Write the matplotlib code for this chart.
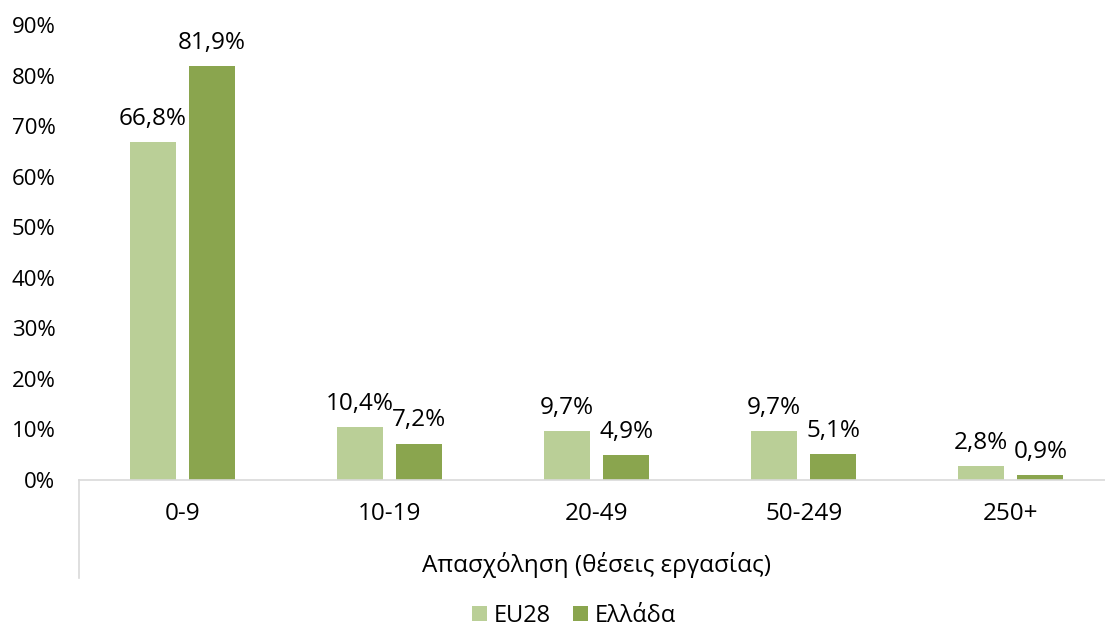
import numpy as np
import matplotlib
matplotlib.use("Agg")
import matplotlib.pyplot as plt
from matplotlib.ticker import FuncFormatter

plt.rcParams['font.family'] = ['Open Sans', 'DejaVu Sans']

# employment size classes and share of enterprises (%)
categories = ["0-9", "10-19", "20-49", "50-249", "250+"]
eu28 = [66.8, 10.4, 9.7, 9.7, 2.8]
greece = [81.9, 7.2, 4.9, 5.1, 0.9]
series_names = ["EU28", "Ελλάδα"]
axis_title = "Απασχόληση (θέσεις εργασίας)"

light_green = "#bacf97"
dark_green = "#8aa54e"
grey = "#d9d9d9"

fig = plt.figure(figsize=(11.05, 6.27), dpi=100)
ax = fig.add_axes([0.0715, 0.2344, 0.937, 0.7256])

x = np.arange(len(categories))
w = 0.222
off = 0.143
b1 = ax.bar(x - off, eu28, w, color=light_green, label=series_names[0])
b2 = ax.bar(x + off, greece, w, color=dark_green, label=series_names[1])

def pct(v):
    return f"{v:.1f}%".replace(".", ",")

for bars, vals in ((b1, eu28), (b2, greece)):
    for bar, v in zip(bars, vals):
        ax.annotate(pct(v), (bar.get_x() + bar.get_width() / 2, v),
                    xytext=(0, 12.5), textcoords="offset points",
                    ha="center", va="baseline", fontsize=17.5)

ax.set_xlim(-0.5, len(categories) - 0.5)
ax.set_ylim(0, 90)
ax.set_yticks(np.arange(0, 91, 10))
ax.yaxis.set_major_formatter(FuncFormatter(lambda v, p: f"{v:.0f}%"))
ax.set_xticks(x)
ax.set_xticklabels(categories)
ax.tick_params(axis="y", length=0, pad=17, labelsize=16)
ax.tick_params(axis="x", length=0, pad=16, labelsize=17.5)

for s in ("top", "right", "left"):
    ax.spines[s].set_visible(False)
ax.spines["bottom"].set_color(grey)
ax.spines["bottom"].set_linewidth(1.2)

# vertical divider below the category axis
ax.plot([0, 0], [0, -0.215], transform=ax.transAxes, color=grey,
        lw=1.2, clip_on=False)

ax.text(0.5, -0.202, axis_title, transform=ax.transAxes,
        ha="center", va="baseline", fontsize=17.5)

fig.legend(handles=[b1, b2], loc="center", bbox_to_anchor=(574 / 1105, 1 - 616 / 627),
           ncol=2, frameon=False, fontsize=17, handlelength=0.62, handleheight=0.6,
           handletextpad=0.3, columnspacing=0.95, borderaxespad=0, borderpad=0)

fig.savefig("out.png", dpi=100)
